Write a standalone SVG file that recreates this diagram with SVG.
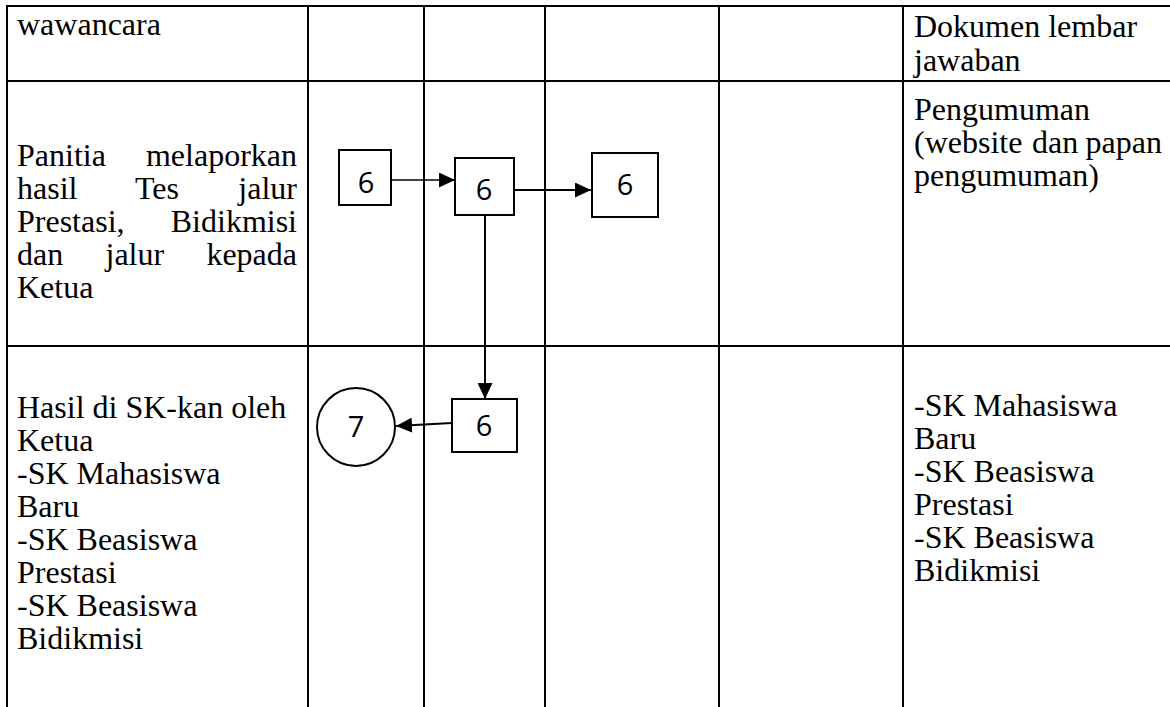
<svg xmlns="http://www.w3.org/2000/svg" width="1170" height="707" viewBox="0 0 1170 707">
<style>
.grid{stroke:#000;stroke-width:2;fill:none}
.t{font-family:"Liberation Serif","Times New Roman",serif;font-size:32px;fill:#000}
.e{text-anchor:end}
.box{fill:#fff;stroke:#000;stroke-width:2}
.num{font-family:"Open Sans","Noto Sans",sans-serif;font-size:29px;fill:#000;text-anchor:middle}
.c{stroke:#000;fill:none}
</style>
<defs>
<marker id="ah" markerUnits="userSpaceOnUse" markerWidth="17" markerHeight="15" refX="16" refY="7.5" orient="auto">
<path d="M0,0 L16,7.5 L0,15 Z" fill="#000"/>
</marker>
</defs>
<rect width="1170" height="707" fill="#fff"/>
<g id="grid" class="grid">
<line x1="6" y1="6" x2="1170" y2="6"/>
<line x1="7" y1="6" x2="7" y2="707"/>
<line x1="308" y1="6" x2="308" y2="707"/>
<line x1="424" y1="6" x2="424" y2="707"/>
<line x1="545" y1="6" x2="545" y2="707"/>
<line x1="719" y1="6" x2="719" y2="707"/>
<line x1="903" y1="6" x2="903" y2="707"/>
<line x1="7" y1="81" x2="1170" y2="81"/>
<line x1="7" y1="346" x2="1170" y2="346"/>
</g>
<g id="row1-text">
<text class="t" x="17" y="35">wawancara</text>
<text class="t" x="914" y="37">Dokumen lembar</text>
<text class="t" x="914" y="71">jawaban</text>
</g>
<g id="row2-text">
<text class="t" x="17" y="166">Panitia</text><text class="t e" x="297" y="166">melaporkan</text>
<text class="t" x="17" y="199">hasil</text><text class="t" x="135" y="199">Tes</text><text class="t e" x="297" y="199">jalur</text>
<text class="t" x="17" y="232">Prestasi,</text><text class="t e" x="297" y="232">Bidikmisi</text>
<text class="t" x="17" y="265">dan</text><text class="t" x="105.5" y="265">jalur</text><text class="t e" x="297" y="265">kepada</text>
<text class="t" x="17" y="298">Ketua</text>
<text class="t" x="914" y="120">Pengumuman</text>
<text class="t" x="914" y="153">(website</text><text class="t" x="1032" y="153">dan</text><text class="t e" x="1162" y="153">papan</text>
<text class="t" x="914" y="186">pengumuman)</text>
</g>
<g id="row3-text">
<text class="t" x="17" y="418">Hasil di SK-kan oleh</text>
<text class="t" x="17" y="451">Ketua</text>
<text class="t" x="17" y="484">-SK Mahasiswa</text>
<text class="t" x="17" y="517">Baru</text>
<text class="t" x="17" y="550">-SK Beasiswa</text>
<text class="t" x="17" y="583">Prestasi</text>
<text class="t" x="17" y="616">-SK Beasiswa</text>
<text class="t" x="17" y="649">Bidikmisi</text>
<text class="t" x="914" y="416">-SK Mahasiswa</text>
<text class="t" x="914" y="449">Baru</text>
<text class="t" x="914" y="482">-SK Beasiswa</text>
<text class="t" x="914" y="515">Prestasi</text>
<text class="t" x="914" y="548">-SK Beasiswa</text>
<text class="t" x="914" y="581">Bidikmisi</text>
</g>
<g id="connectors">
<line class="c" x1="391" y1="180" x2="455" y2="180" stroke-width="1.3" marker-end="url(#ah)"/>
<line class="c" x1="514" y1="190" x2="591" y2="190" stroke-width="2.2" marker-end="url(#ah)"/>
<line class="c" x1="485" y1="215" x2="485" y2="399" stroke-width="2" marker-end="url(#ah)"/>
<line class="c" x1="452" y1="423" x2="396" y2="426" stroke-width="2.2" marker-end="url(#ah)"/>
</g>
<g id="node-6a">
<rect class="box" x="339" y="150" width="52" height="55"/>
<text class="num" x="366" y="193">6</text>
</g>
<g id="node-6b">
<rect class="box" x="455" y="158" width="59" height="57"/>
<text class="num" x="484" y="200">6</text>
</g>
<g id="node-6c">
<rect class="box" x="592" y="153" width="66" height="64"/>
<text class="num" x="625" y="195">6</text>
</g>
<g id="node-6d">
<rect class="box" x="452" y="399" width="65" height="53"/>
<text class="num" x="484" y="436">6</text>
</g>
<g id="node-7">
<circle cx="356" cy="427" r="39" fill="#fff" stroke="#000" stroke-width="2"/>
<text class="num" x="356" y="437">7</text>
</g>
</svg>
